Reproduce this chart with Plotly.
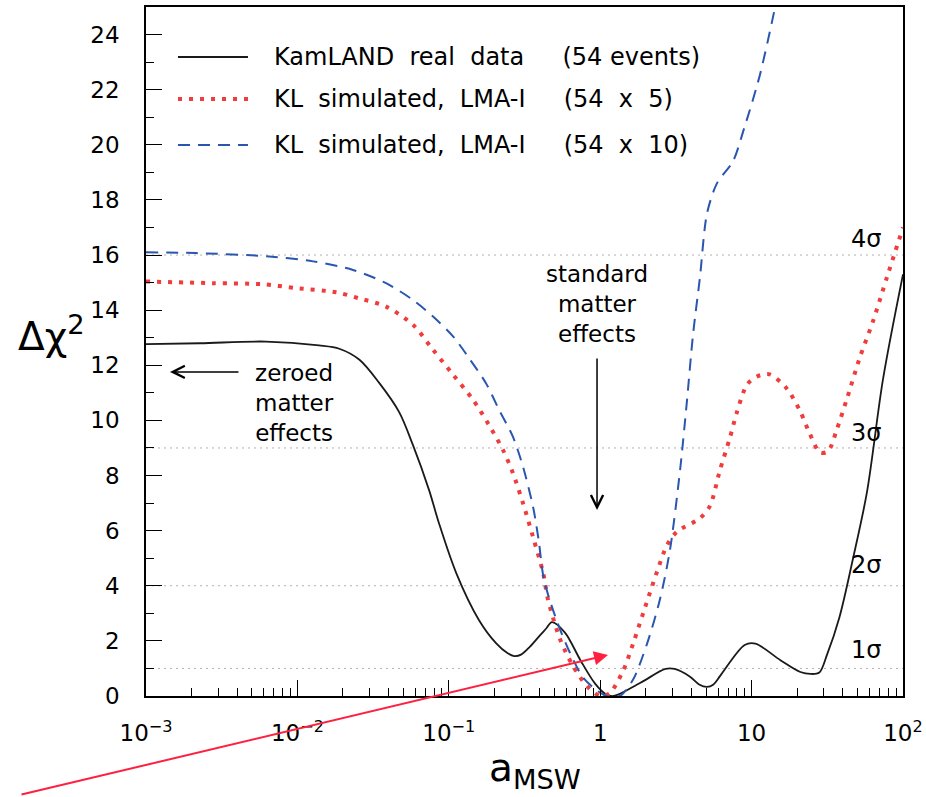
import math
import plotly.graph_objects as go

# ---------------- data ----------------
x_real = [0.001, 0.00228, 0.0062, 0.0139, 0.0189, 0.0257, 0.0347, 0.047, 0.058, 0.074,
          0.086, 0.112, 0.158, 0.205, 0.245, 0.27, 0.30, 0.345, 0.40, 0.44, 0.48, 0.585, 0.74, 0.925,
          1.1, 1.23, 1.83, 2.7, 3.1, 3.92, 4.5, 5.07, 5.6, 6.2, 9.0, 10.6, 15.5, 21, 24.5, 28, 31.5,
          38, 46.8, 57.8, 73.8, 100]
y_real = [12.77, 12.80, 12.86, 12.72, 12.6, 12.2, 11.36, 10.3, 9.1, 7.48,
          6.28, 4.46, 2.76, 1.92, 1.55, 1.45, 1.5, 1.8, 2.2, 2.45, 2.68, 2.3, 1.3, 0.45,
          0.05, 0.0, 0.47, 0.98, 0.98, 0.7, 0.42, 0.33, 0.42, 0.73, 1.85, 1.9, 1.3, 0.87, 0.8, 0.85, 1.5,
          2.85, 5.0, 7.4, 11.5, 15.3]

x_sim5 = [0.001, 0.00277, 0.0059, 0.0098, 0.018, 0.0255, 0.0385, 0.058, 0.0787, 0.107,
          0.145, 0.184, 0.228, 0.265, 0.309, 0.36, 0.42, 0.452, 0.543, 0.661, 0.818,
          1.0, 1.16, 1.42, 1.65, 1.92, 2.37, 2.76, 3.21, 4.56, 5.31, 6.18, 7.19, 8.0,
          9.33, 10.9, 13.2, 17.1, 20.9, 24.3, 28.3, 32.0, 36.7, 42.7, 52.0, 63.4, 78.4, 100]
y_sim5 = [15.04, 14.98, 14.94, 14.8, 14.65, 14.43, 14.13, 13.47, 12.56, 11.65,
          10.74, 9.84, 8.93, 8.09, 7.0, 5.77, 4.46, 3.5, 2.06, 1.09, 0.36,
          0.0, 0.11, 0.93, 1.9, 3.0, 4.5, 5.47, 5.96, 6.45, 6.9, 8.2, 9.37, 10.3,
          11.3, 11.6, 11.67, 11.15, 10.34, 9.5, 8.83, 8.88, 9.7, 10.8, 12.3, 13.6, 15.2, 17.0]

x_sim10 = [0.001, 0.00214, 0.0065, 0.0127, 0.0233, 0.0385, 0.058, 0.0787, 0.107, 0.136,
           0.176, 0.215, 0.265, 0.309, 0.36, 0.392, 0.426, 0.519, 0.631, 0.769, 0.952,
           1.1, 1.35, 1.65, 2.04, 2.48, 2.89, 3.37, 3.74, 4.10, 4.56, 5.07, 5.90, 7.53,
           8.93, 11.3, 14.3, 15.5]
y_sim10 = [16.1, 16.07, 15.95, 15.77, 15.46, 14.98, 14.37, 13.77, 13.04, 12.26,
           11.35, 10.38, 9.41, 8.32, 6.87, 5.66, 4.2, 2.7, 1.57, 0.68, 0.2,
           0.0, 0.0, 0.6, 1.9, 3.5, 5.3, 8.2, 10.7, 13.1, 15.2, 17.5, 18.6, 19.4,
           20.6, 22.5, 25.0, 26.0]

names = ["KamLAND real data", "KL simulated, LMA-I", "KL simulated, LMA-I"]
counts = ["(54 events)", "(54 x 5)", "(54 x 10)"]
sigma_levels = [1, 4, 9, 16]
sigma_labels = ["1σ", "2σ", "3σ", "4σ"]
x_tickvals = [1e-3, 1e-2, 1e-1, 1, 10, 100]
x_ticktext = ["10<sup>−3</sup>", "10<sup>−2</sup>", "10<sup>−1</sup>", "1", "10", "10<sup>2</sup>"]
y_tickvals = list(range(0, 25, 2))

# ---------------- styling ----------------
FONT = "DejaVu Sans"
BLACK = "#1a1a1a"
RED = "#f03c3c"
BLUE = "#2a56b0"
ARROW_RED = "#ff2040"
RED_DASH = "4px,7px"
BLUE_DASH = "12px,8px"

fig = go.Figure()
fig.add_trace(go.Scatter(x=x_real, y=y_real, mode="lines", name=names[0],
                         line=dict(color=BLACK, width=1.8, shape="spline", smoothing=0.9)))
fig.add_trace(go.Scatter(x=x_sim5, y=y_sim5, mode="lines", name=names[1],
                         line=dict(color=RED, width=4, dash=RED_DASH, shape="spline", smoothing=0.8)))
fig.add_trace(go.Scatter(x=x_sim10, y=y_sim10, mode="lines", name=names[2],
                         line=dict(color=BLUE, width=2, dash=BLUE_DASH, shape="spline", smoothing=0.8)))

# sigma reference lines
for lv in sigma_levels:
    fig.add_shape(type="line", xref="paper", x0=0, x1=1, yref="y", y0=lv, y1=lv,
                  line=dict(color="#b0b0b0", width=1, dash="2px,4px"), layer="below")

# sigma labels
sig_y = [1.67, 4.75, 9.55, 16.6]
for lab, yy in zip(sigma_labels, sig_y):
    fig.add_annotation(x=0.974, xref="paper", y=yy, yref="y", text=lab, showarrow=False,
                       xanchor="right", yanchor="middle", font=dict(family=FONT, size=24, color="black"))

# manual legend
leg_y = [0.9274, 0.8665, 0.7997]
leg_lines = [dict(color=BLACK, width=2), dict(color=RED, width=4, dash=RED_DASH),
             dict(color=BLUE, width=2, dash=BLUE_DASH)]
NB = "\u00a0"
leg_texts = [
    "KamLAND" + NB * 2 + "real" + NB * 2 + "data" + NB * 5 + "(54" + NB + "events)",
    "KL" + NB * 2 + "simulated," + NB * 2 + "LMA-I" + NB * 5 + "(54" + NB * 2 + "x" + NB * 2 + "5)",
    "KL" + NB * 2 + "simulated," + NB * 2 + "LMA-I" + NB * 5 + "(54" + NB * 2 + "x" + NB * 2 + "10)",
]
for yy, ln, tx in zip(leg_y, leg_lines, leg_texts):
    fig.add_shape(type="line", xref="paper", yref="paper", x0=0.0423, x1=0.1347, y0=yy, y1=yy, line=ln)
    fig.add_annotation(x=0.1664, xref="paper", y=yy, yref="paper", text=tx, showarrow=False,
                       xanchor="left", yanchor="middle", font=dict(family=FONT, size=24, color="black"))

lg = math.log10  # annotations on a log axis are placed in log10 units

# text annotations
fig.add_annotation(x=0.1968, xref="paper", y=11.75, yref="y", text="zeroed<br>matter<br>effects",
                   showarrow=False, xanchor="center", yanchor="top", yshift=14,
                   font=dict(family=FONT, size=23, color="black"))
fig.add_annotation(x=lg(0.00144), y=11.76, ax=70, ay=0, text="", showarrow=True,
                   arrowhead=5, arrowsize=1.6, arrowwidth=1.5, arrowcolor="black")

fig.add_annotation(x=lg(0.953), y=15.85, yref="y", text="standard<br>matter<br>effects",
                   showarrow=False, xanchor="center", yanchor="top",
                   font=dict(family=FONT, size=23, color="black"))
fig.add_annotation(x=lg(0.953), y=6.75, ax=0, ay=-153, text="", showarrow=True,
                   arrowhead=5, arrowsize=1.6, arrowwidth=1.5, arrowcolor="black")

# red arrow from below the axis
fig.add_annotation(x=lg(1.126), y=1.49, ax=-588, ay=140, text="", showarrow=True,
                   arrowhead=2, arrowsize=1.4, arrowwidth=2, arrowcolor=ARROW_RED)

# axis titles
fig.add_annotation(x=-0.172, xref="paper", y=0.525, yref="paper", text="Δχ<sup>2</sup>",
                   showarrow=False, xanchor="left", yanchor="middle",
                   font=dict(family=FONT, size=39, color="black"))
fig.add_annotation(x=0.514, xref="paper", y=-0.107, yref="paper", text="a<sub>MSW</sub>",
                   showarrow=False, xanchor="center", yanchor="middle",
                   font=dict(family=FONT, size=39, color="black"))

minor_x = [m * 10 ** e for e in range(-3, 2) for m in range(2, 10)]

fig.update_layout(
    width=926, height=797,
    margin=dict(l=146, r=23, t=7, b=101),
    paper_bgcolor="white", plot_bgcolor="white",
    showlegend=False,
    font=dict(family=FONT, size=23, color="black"),
    xaxis=dict(type="log", range=[-3, 2], showgrid=False, zeroline=False, automargin=False,
               showline=True, linecolor="black", linewidth=1.5, mirror=True,
               ticks="inside", ticklen=16, tickwidth=1.2, tickcolor="black",
               tickvals=x_tickvals, ticktext=x_ticktext, ticklabelstandoff=16,
               tickfont=dict(family=FONT, size=23, color="black"),
               minor=dict(tickvals=minor_x, ticks="inside", ticklen=8, tickwidth=1.2,
                          tickcolor="black", showgrid=False)),
    yaxis=dict(range=[0, 25], showgrid=False, zeroline=False, automargin=False,
               showline=True, linecolor="black", linewidth=1.5, mirror=True,
               ticks="inside", ticklen=16, tickwidth=1.2, tickcolor="black",
               tickvals=y_tickvals, ticklabelstandoff=20,
               tickfont=dict(family=FONT, size=23, color="black"),
               minor=dict(dtick=1, ticks="inside", ticklen=8, tickwidth=1.2,
                          tickcolor="black", showgrid=False)),
)

fig.write_html("out.html", config={"displayModeBar": False},
               post_script="document.body.style.margin='0px';")
